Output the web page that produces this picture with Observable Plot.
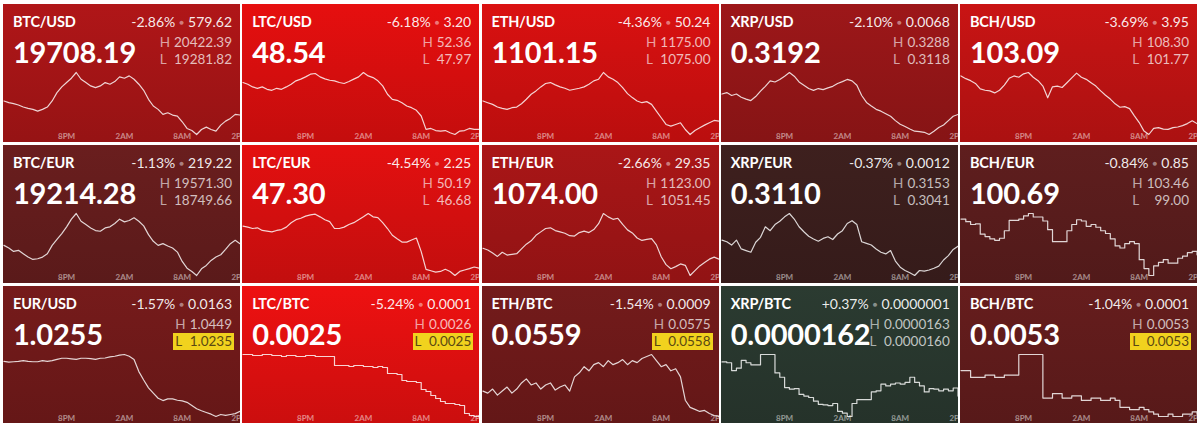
<!DOCTYPE html>
<html><head><meta charset="utf-8">
<script src="https://cdn.jsdelivr.net/npm/d3@7"></script>
<script src="https://cdn.jsdelivr.net/npm/@observablehq/plot@0.6"></script>
<style>
html,body{margin:0;padding:0;background:#fff;}
body{width:1200px;height:423px;overflow:hidden;font-family:Lato,"Noto Sans",sans-serif;position:relative;}
#grid{position:absolute;left:3px;top:4px;display:grid;grid-template-columns:repeat(5,237px);grid-auto-rows:138px;column-gap:2.25px;row-gap:3px;}
.tile{position:relative;overflow:hidden;color:#fff;}
.tile svg{position:absolute;left:0;top:0;}
.pair{position:absolute;left:10px;top:10px;font-size:14.5px;font-weight:700;line-height:16px;letter-spacing:-0.2px;z-index:2}
.chg{position:absolute;right:8px;top:10px;font-size:14px;line-height:16px;color:rgba(255,255,255,0.92);white-space:nowrap;z-index:2}
.dot{color:rgba(255,255,255,0.45);font-size:8px;vertical-align:2px;margin:0 4px}
.price{position:absolute;left:10px;top:33px;font-size:29px;font-weight:700;line-height:30px;letter-spacing:-0.2px;z-index:2}
.hl{position:absolute;right:6px;top:30px;display:flex;flex-direction:column;font-size:13.5px;line-height:17px;color:rgba(255,255,255,0.72);z-index:2}
.row{display:flex;justify-content:space-between;gap:4px;padding:0 2px}
.row .k{opacity:0.85}
.row.hi{background:#f1d21e;color:#5b4812}
.row.hi .k{opacity:1}
</style>
</head><body>
<div id="grid"></div>
<script>
// ---- data ----
const pairs = ["BTC/USD","LTC/USD","ETH/USD","XRP/USD","BCH/USD",
               "BTC/EUR","LTC/EUR","ETH/EUR","XRP/EUR","BCH/EUR",
               "EUR/USD","LTC/BTC","ETH/BTC","XRP/BTC","BCH/BTC"];
const prices = ["19708.19","48.54","1101.15","0.3192","103.09",
                "19214.28","47.30","1074.00","0.3110","100.69",
                "1.0255","0.0025","0.0559","0.0000162","0.0053"];
const changePct = [-2.86,-6.18,-4.36,-2.10,-3.69,-1.13,-4.54,-2.66,-0.37,-0.84,-1.57,-5.24,-1.54,0.37,-1.04];
const changePctText = ["-2.86%","-6.18%","-4.36%","-2.10%","-3.69%","-1.13%","-4.54%","-2.66%","-0.37%","-0.84%","-1.57%","-5.24%","-1.54%","+0.37%","-1.04%"];
const changeAbs = ["579.62","3.20","50.24","0.0068","3.95","219.22","2.25","29.35","0.0012","0.85","0.0163","0.0001","0.0009","0.0000001","0.0001"];
const highs = ["20422.39","52.36","1175.00","0.3288","108.30","19571.30","50.19","1123.00","0.3153","103.46","1.0449","0.0026","0.0575","0.0000163","0.0053"];
const lows  = ["19281.82","47.97","1075.00","0.3118","101.77","18749.66","46.68","1051.45","0.3041","99.00","1.0235","0.0025","0.0558","0.0000160","0.0053"];
const lowHighlighted = [false,false,false,false,false,false,false,false,false,false,true,true,true,false,true];
const steppedPairs = ["BCH/EUR","LTC/BTC","XRP/BTC","BCH/BTC"];

// hours since 2PM of the previous day
const hours = [-0.5,0,0.5,1,1.5,2,2.5,3,3.5,4,4.5,5,5.5,6,6.5,7,7.5,8,8.5,9,9.5,10,10.5,11,11.5,12,12.5,13,13.5,14,14.5,15,15.5,16,16.5,17,17.5,18,18.5,19,19.5,20,20.5,21,21.5,22,22.5,23,23.5,24];
const tickHours = [6,12,18,24];
const tickLabels = ["8PM","2AM","8AM","2PM"];

const btcUsd = [19898,19867,19849,19824,19787,19762,19744,19713,19744,19787,19898,20052,20157,20237,20317,20422,20298,20237,20175,20144,20175,20237,20206,20255,20342,20317,20360,20298,20206,20095,19929,19806,19744,19652,19682,19639,19621,19516,19393,19356,19282,19374,19418,19374,19344,19454,19528,19578,19652,19640];
const ltcUsd = [51.65,51.53,51.34,51.24,51.34,51.17,51.10,51.24,51.17,51.34,51.53,51.77,51.89,52.05,52.24,52.29,52.05,51.91,51.81,51.77,51.65,51.58,51.72,51.89,52.05,52.36,52.12,52.00,51.77,51.41,50.82,50.46,50.39,50.22,49.99,49.87,49.68,49.28,48.33,48.40,48.25,48.21,48.25,48.09,47.97,48.21,48.25,48.40,48.33,48.33];
const ethUsd = [1129.1,1126.3,1123.6,1119.3,1117.2,1115.5,1118.2,1119.3,1124.7,1131.8,1139.9,1145.3,1151.8,1157.2,1158.8,1155.0,1151.8,1149.6,1146.4,1148.0,1149.6,1151.8,1156.1,1161.5,1164.2,1175.0,1168.0,1164.2,1158.8,1150.7,1140.9,1134.5,1129.1,1126.3,1128.0,1123.6,1112.8,1102.0,1091.2,1088.5,1091.2,1093.9,1083.1,1075.0,1081.5,1085.8,1090.1,1093.9,1097.7,1096.6];
const xrpUsd = [0.3229,0.3233,0.3225,0.3229,0.3220,0.3215,0.3211,0.3222,0.3237,0.3250,0.3265,0.3262,0.3269,0.3278,0.3288,0.3278,0.3262,0.3253,0.3244,0.3239,0.3244,0.3241,0.3246,0.3250,0.3258,0.3263,0.3269,0.3265,0.3253,0.3225,0.3206,0.3196,0.3187,0.3182,0.3175,0.3168,0.3156,0.3146,0.3140,0.3133,0.3127,0.3126,0.3124,0.3118,0.3127,0.3137,0.3144,0.3156,0.3168,0.3173];
const bchUsd = [107.94,107.65,107.44,107.15,106.58,106.43,106.36,106.15,106.43,106.97,107.69,107.94,107.80,108.16,108.30,107.80,107.44,106.87,105.64,106.79,106.87,106.72,107.22,107.73,108.23,107.80,107.58,107.22,106.87,106.36,105.90,105.50,105.00,104.64,104.71,104.50,103.74,103.03,102.13,101.77,102.42,102.49,102.34,102.31,102.49,102.56,102.70,102.92,103.21,102.92];
const btcEur = [19149,19114,19069,19083,19038,18994,18963,18972,18994,19038,19149,19229,19305,19394,19496,19571,19469,19425,19380,19345,19336,19380,19394,19438,19496,19460,19478,19514,19469,19407,19291,19203,19149,19172,19140,19114,19060,18936,18847,18803,18750,18838,18883,18950,18994,19025,19096,19172,19216,19172];
const ltcEur = [49.48,49.42,49.34,49.38,49.23,49.19,49.15,49.23,49.28,49.42,49.67,49.84,49.92,50.04,50.11,50.15,50.00,49.84,49.73,49.34,49.34,49.42,49.57,49.67,49.84,50.00,50.19,50.00,49.96,49.67,49.34,48.96,48.76,48.57,48.57,48.69,48.80,48.03,47.03,46.95,46.87,46.91,47.03,46.91,46.68,46.91,46.99,47.07,47.16,47.10];
const ethEur = [1082.9,1080.9,1077.4,1073.5,1078.2,1075.0,1075.8,1076.6,1082.1,1087.6,1091.5,1097.8,1101.8,1105.7,1106.5,1103.3,1101.8,1100.2,1097.4,1097.0,1101.0,1102.6,1101.0,1104.5,1111.2,1123.0,1119.1,1116.3,1117.5,1110.4,1104.1,1100.6,1094.7,1091.9,1093.1,1093.9,1086.8,1073.1,1064.0,1059.3,1061.7,1064.8,1063.2,1051.45,1057.0,1062.5,1066.4,1070.3,1072.7,1070.3];
const xrpEur = [0.3105,0.3102,0.3096,0.3105,0.3089,0.3086,0.3083,0.3101,0.3110,0.3129,0.3122,0.3133,0.3139,0.3147,0.3153,0.3143,0.3129,0.3120,0.3112,0.3107,0.3103,0.3108,0.3111,0.3106,0.3116,0.3122,0.3135,0.3140,0.3133,0.3102,0.3099,0.3096,0.3089,0.3083,0.3080,0.3086,0.3067,0.3056,0.3050,0.3046,0.3041,0.3050,0.3049,0.3051,0.3054,0.3058,0.3069,0.3077,0.3088,0.3094];
const bchEur = [103.06,102.87,102.67,102.72,101.97,101.80,101.63,101.53,101.68,102.22,102.96,102.96,103.06,103.29,103.46,103.21,103.21,102.92,102.30,101.43,101.43,101.43,102.22,102.67,103.01,102.92,102.54,102.67,102.47,102.22,102.02,101.63,101.13,100.98,101.30,101.43,101.30,100.14,99.50,99.00,99.69,99.94,100.14,99.89,99.89,100.24,100.39,100.64,100.73,100.49];
const eurUsd = [1.0425,1.0423,1.0424,1.0425,1.0428,1.0425,1.0424,1.0424,1.0428,1.0425,1.0428,1.0432,1.0436,1.0436,1.0434,1.0432,1.0436,1.0436,1.0435,1.0432,1.0436,1.0437,1.0441,1.0443,1.0447,1.0449,1.0443,1.0432,1.0390,1.0361,1.0334,1.0316,1.0298,1.0290,1.0296,1.0296,1.0291,1.0289,1.0284,1.0273,1.0262,1.0255,1.0249,1.0243,1.0235,1.0242,1.0239,1.0242,1.0245,1.0253];
const ltcBtc = [0.0026054,0.0026054,0.0026037,0.0026037,0.0026054,0.0026054,0.0026037,0.0026037,0.0026020,0.0026037,0.0026037,0.0026020,0.0026020,0.0026037,0.0026037,0.0026020,0.0026020,0.0026020,0.0026020,0.0025867,0.0025867,0.0025867,0.0025850,0.0025867,0.0025867,0.0025850,0.0025850,0.0025833,0.0025850,0.0025833,0.0025731,0.0025731,0.0025714,0.0025612,0.0025595,0.0025595,0.0025578,0.0025459,0.0025425,0.0025357,0.0025306,0.0025255,0.0025221,0.0025221,0.0025204,0.0025187,0.0025051,0.0025017,0.0025000,0.0025017];
const ethBtc = [0.056497,0.056441,0.056552,0.056385,0.056497,0.056608,0.056441,0.056552,0.056720,0.056831,0.056664,0.056720,0.056552,0.056664,0.056720,0.056525,0.056608,0.056664,0.056497,0.056887,0.056998,0.057166,0.057054,0.057221,0.057277,0.057166,0.057333,0.057221,0.057277,0.057361,0.057221,0.057333,0.057277,0.057389,0.057444,0.057500,0.057333,0.057166,0.057221,0.057054,0.057110,0.056887,0.056246,0.056051,0.055995,0.055939,0.055967,0.055884,0.055828,0.055800];
const xrpBtc = [0.000016264,0.000016260,0.000016222,0.000016234,0.000016272,0.000016260,0.000016250,0.000016250,0.000016300,0.000016300,0.000016300,0.000016211,0.000016190,0.000016140,0.000016132,0.000016135,0.000016107,0.000016099,0.000016092,0.000016074,0.000016059,0.000016056,0.000016053,0.000016063,0.000016025,0.000016016,0.000016000,0.000016063,0.000016082,0.000016082,0.000016082,0.000016119,0.000016124,0.000016157,0.000016148,0.000016157,0.000016162,0.000016157,0.000016165,0.000016190,0.000016165,0.000016148,0.000016119,0.000016135,0.000016132,0.000016124,0.000016132,0.000016124,0.000016138,0.000016099];
const bchBtc = [0.0053234,0.0053234,0.0053125,0.0053125,0.0053125,0.0053162,0.0053162,0.0053125,0.0053125,0.0053162,0.0053162,0.0053162,0.0053487,0.0053487,0.0053487,0.0053487,0.0053487,0.0052800,0.0052800,0.0052872,0.0052872,0.0052800,0.0052800,0.0052836,0.0052836,0.0052763,0.0052763,0.0052800,0.0052800,0.0052763,0.0052763,0.0052800,0.0052763,0.0052655,0.0052655,0.0052619,0.0052619,0.0052655,0.0052619,0.0052582,0.0052546,0.0052510,0.0052510,0.0052546,0.0052510,0.0052510,0.0052546,0.0052546,0.0052582,0.0052546];

const seriesList = [btcUsd,ltcUsd,ethUsd,xrpUsd,bchUsd,btcEur,ltcEur,ethEur,xrpEur,bchEur,eurUsd,ltcBtc,ethBtc,xrpBtc,bchBtc];

// ---- tile colour from % change ----
const tileColor = d3.scaleLinear()
  .domain([-6.2,-5.2,-4.5,-4.3,-3.7,-2.86,-2.66,-2.1,-1.56,-1.13,-1.04,-0.84,-0.37,0,0.37])
  .range(["#e60f0f","#ee1111","#e31010","#d61212","#c91414","#b01618","#aa1617","#9d1719","#751b1b","#6a1e1e","#661d1d","#5f1e1e","#3e201e","#333","#2b3b31"])
  .clamp(true);

const grid = document.getElementById("grid");
pairs.forEach((pair, i) => {
  const c = d3.color(tileColor(changePct[i]));
  const tile = document.createElement("div");
  tile.className = "tile";
  tile.style.background = `linear-gradient(to bottom, ${c.formatHex()}, ${c.darker(0.45).formatHex()})`;
  tile.innerHTML = `
    <div class="pair">${pair}</div>
    <div class="chg">${changePctText[i]}<span class="dot">●</span>${changeAbs[i]}</div>
    <div class="price">${prices[i]}</div>
    <div class="hl">
      <div class="row"><span class="k">H</span><span class="v">${highs[i]}</span></div>
      <div class="row${lowHighlighted[i] ? " hi" : ""}"><span class="k">L</span><span class="v">${lows[i]}</span></div>
    </div>`;
  const vals = seriesList[i];
  const data = hours.map((h, j) => ({h, v: vals[j]}));
  const chart = Plot.plot({
    width: 237, height: 138,
    marginTop: 68, marginBottom: 8, marginLeft: 0, marginRight: 0,
    style: {background: "transparent", color: "rgba(255,255,255,0.5)", fontFamily: "Lato, sans-serif", fontSize: "8px", fontWeight: "700", overflow: "hidden"},
    x: {domain: [-0.55, 24.05], ticks: tickHours, tickFormat: d => tickLabels[tickHours.indexOf(d)], tickSize: 0, tickPadding: -1, label: null},
    y: {domain: d3.extent(vals), axis: null},
    marks: [
      Plot.line(data, {x: "h", y: "v", stroke: "#fff", strokeOpacity: 0.82, strokeWidth: 1.2,
        curve: steppedPairs.includes(pair) ? "step-after" : "linear"})
    ]
  });
  tile.appendChild(chart);
  grid.appendChild(tile);
});
</script>
</body></html>
